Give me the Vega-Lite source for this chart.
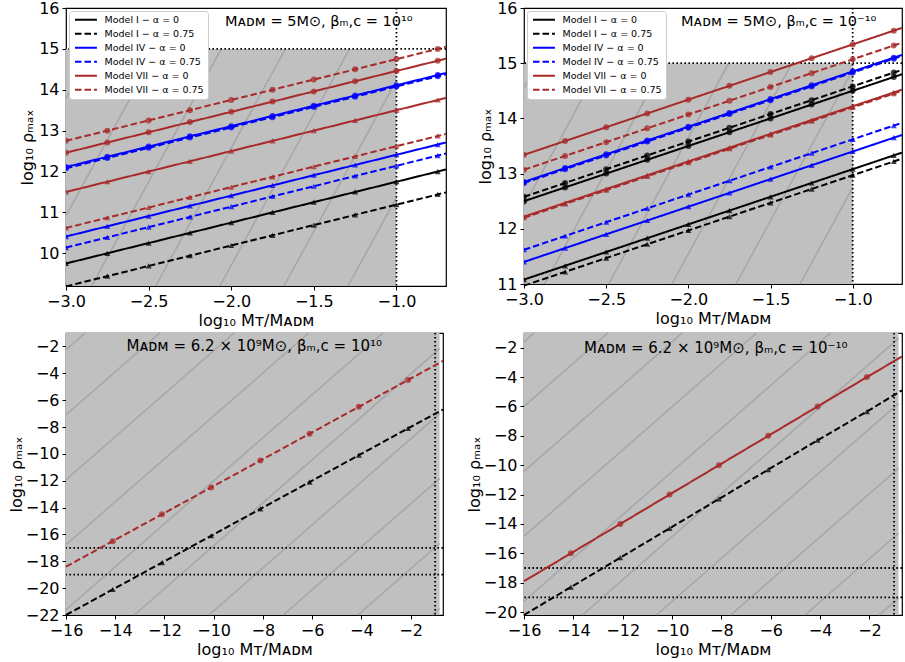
{
"$schema": "https://vega.github.io/schema/vega-lite/v6.json",
"background": "white",
"padding": {"left": 7, "top": -1, "right": 0, "bottom": 0},
"config": {
  "font": "DejaVu Sans",
  "view": {"stroke": "black", "strokeWidth": 1.2},
  "axis": {"domain": false, "grid": false, "labelFontSize": 16, "titleFontSize": 16, "titleFontWeight": "normal", "labelColor": "black", "titleColor": "black", "tickColor": "black", "tickSize": 4, "labelPadding": 3, "labelFont": "DejaVu Sans", "titleFont": "DejaVu Sans", "labelOverlap": false, "labelFlush": false, "tickCount": 30},
  "axisX": {"titlePadding": 3},
  "axisY": {"titlePadding": 3},
  "legend": {"orient": "top-left", "offset": 3, "fillColor": "white", "strokeColor": "#cccccc", "cornerRadius": 3, "padding": 4, "symbolType": "M-1,0H7", "symbolSize": 30, "symbolStrokeWidth": 2, "labelFontSize": 9.5, "labelFont": "DejaVu Sans", "labelColor": "black", "rowPadding": 3, "labelOffset": 22}
},
"datasets": {
  "series": [
    {"key": "I0c", "label": "Model I − α = 0", "kind": "c"},
    {"key": "I0t", "label": "Model I − α = 0", "kind": "t"},
    {"key": "I75c", "label": "Model I − α = 0.75", "kind": "c"},
    {"key": "I75t", "label": "Model I − α = 0.75", "kind": "t"},
    {"key": "IV0c", "label": "Model IV − α = 0", "kind": "c"},
    {"key": "IV0t", "label": "Model IV − α = 0", "kind": "t"},
    {"key": "IV75c", "label": "Model IV − α = 0.75", "kind": "c"},
    {"key": "IV75t", "label": "Model IV − α = 0.75", "kind": "t"},
    {"key": "VII0c", "label": "Model VII − α = 0", "kind": "c"},
    {"key": "VII0t", "label": "Model VII − α = 0", "kind": "t"},
    {"key": "VII75c", "label": "Model VII − α = 0.75", "kind": "c"},
    {"key": "VII75t", "label": "Model VII − α = 0.75", "kind": "t"}
  ],
  "tl": [
    {"x": -3, "VII75c": 12.75, "VII0c": 12.46, "IV0c": 12.11, "IV75c": 12.08, "VII0t": 11.5, "VII75t": 10.62, "IV0t": 10.41, "IV75t": 10.14, "I0t": 9.75, "I75t": 9.19},
    {"x": -2.75, "VII75c": 13.0, "VII0c": 12.71, "IV0c": 12.36, "IV75c": 12.33, "VII0t": 11.75, "VII75t": 10.87, "IV0t": 10.66, "IV75t": 10.39, "I0t": 10.0, "I75t": 9.44},
    {"x": -2.5, "VII75c": 13.25, "VII0c": 12.96, "IV0c": 12.61, "IV75c": 12.58, "VII0t": 12.0, "VII75t": 11.12, "IV0t": 10.91, "IV75t": 10.64, "I0t": 10.25, "I75t": 9.69},
    {"x": -2.25, "VII75c": 13.5, "VII0c": 13.21, "IV0c": 12.86, "IV75c": 12.83, "VII0t": 12.25, "VII75t": 11.37, "IV0t": 11.16, "IV75t": 10.89, "I0t": 10.5, "I75t": 9.94},
    {"x": -2, "VII75c": 13.75, "VII0c": 13.46, "IV0c": 13.11, "IV75c": 13.08, "VII0t": 12.5, "VII75t": 11.62, "IV0t": 11.41, "IV75t": 11.14, "I0t": 10.75, "I75t": 10.19},
    {"x": -1.75, "VII75c": 14.0, "VII0c": 13.71, "IV0c": 13.36, "IV75c": 13.33, "VII0t": 12.75, "VII75t": 11.87, "IV0t": 11.66, "IV75t": 11.39, "I0t": 11.0, "I75t": 10.44},
    {"x": -1.5, "VII75c": 14.25, "VII0c": 13.96, "IV0c": 13.61, "IV75c": 13.58, "VII0t": 13.0, "VII75t": 12.12, "IV0t": 11.91, "IV75t": 11.64, "I0t": 11.25, "I75t": 10.69},
    {"x": -1.25, "VII75c": 14.5, "VII0c": 14.21, "IV0c": 13.86, "IV75c": 13.83, "VII0t": 13.25, "VII75t": 12.37, "IV0t": 12.16, "IV75t": 11.89, "I0t": 11.5, "I75t": 10.94},
    {"x": -1, "VII75c": 14.75, "VII0c": 14.46, "IV0c": 14.11, "IV75c": 14.08, "VII0t": 13.5, "VII75t": 12.62, "IV0t": 12.41, "IV75t": 12.14, "I0t": 11.75, "I75t": 11.19},
    {"x": -0.75, "VII75c": 15.0, "VII0c": 14.71, "IV0c": 14.36, "IV75c": 14.33, "VII0t": 13.75, "VII75t": 12.87, "IV0t": 12.66, "IV75t": 12.39, "I0t": 12.0, "I75t": 11.44},
    {"x": -0.7, "VII75c": 15.05, "VII0c": 14.76, "IV0c": 14.41, "IV75c": 14.38, "VII0t": 13.8, "VII75t": 12.92, "IV0t": 12.71, "IV75t": 12.44, "I0t": 12.05, "I75t": 11.49}
  ],
  "tr": [
    {"x": -3, "VII0c": 13.34, "VII75c": 13.07, "IV0c": 12.85, "IV75c": 12.83, "I75c": 12.58, "I0c": 12.5, "VII0t": 12.22, "VII75t": 12.2, "IV75t": 11.62, "IV0t": 11.4, "I0t": 11.08, "I75t": 10.97},
    {"x": -2.75, "VII0c": 13.59, "VII75c": 13.32, "IV0c": 13.1, "IV75c": 13.08, "I75c": 12.83, "I0c": 12.75, "VII0t": 12.47, "VII75t": 12.45, "IV75t": 11.87, "IV0t": 11.65, "I0t": 11.33, "I75t": 11.22},
    {"x": -2.5, "VII0c": 13.84, "VII75c": 13.57, "IV0c": 13.35, "IV75c": 13.33, "I75c": 13.08, "I0c": 13.0, "VII0t": 12.72, "VII75t": 12.7, "IV75t": 12.12, "IV0t": 11.9, "I0t": 11.58, "I75t": 11.47},
    {"x": -2.25, "VII0c": 14.09, "VII75c": 13.82, "IV0c": 13.6, "IV75c": 13.58, "I75c": 13.33, "I0c": 13.25, "VII0t": 12.97, "VII75t": 12.95, "IV75t": 12.37, "IV0t": 12.15, "I0t": 11.83, "I75t": 11.72},
    {"x": -2, "VII0c": 14.34, "VII75c": 14.07, "IV0c": 13.85, "IV75c": 13.83, "I75c": 13.58, "I0c": 13.5, "VII0t": 13.22, "VII75t": 13.2, "IV75t": 12.62, "IV0t": 12.4, "I0t": 12.08, "I75t": 11.97},
    {"x": -1.75, "VII0c": 14.59, "VII75c": 14.32, "IV0c": 14.1, "IV75c": 14.08, "I75c": 13.83, "I0c": 13.75, "VII0t": 13.47, "VII75t": 13.45, "IV75t": 12.87, "IV0t": 12.65, "I0t": 12.33, "I75t": 12.22},
    {"x": -1.5, "VII0c": 14.84, "VII75c": 14.57, "IV0c": 14.35, "IV75c": 14.33, "I75c": 14.08, "I0c": 14.0, "VII0t": 13.72, "VII75t": 13.7, "IV75t": 13.12, "IV0t": 12.9, "I0t": 12.58, "I75t": 12.47},
    {"x": -1.25, "VII0c": 15.09, "VII75c": 14.82, "IV0c": 14.6, "IV75c": 14.58, "I75c": 14.33, "I0c": 14.25, "VII0t": 13.97, "VII75t": 13.95, "IV75t": 13.37, "IV0t": 13.15, "I0t": 12.83, "I75t": 12.72},
    {"x": -1, "VII0c": 15.34, "VII75c": 15.07, "IV0c": 14.85, "IV75c": 14.83, "I75c": 14.58, "I0c": 14.5, "VII0t": 14.22, "VII75t": 14.2, "IV75t": 13.62, "IV0t": 13.4, "I0t": 13.08, "I75t": 12.97},
    {"x": -0.75, "VII0c": 15.59, "VII75c": 15.32, "IV0c": 15.1, "IV75c": 15.08, "I75c": 14.83, "I0c": 14.75, "VII0t": 14.47, "VII75t": 14.45, "IV75t": 13.87, "IV0t": 13.65, "I0t": 13.33, "I75t": 13.22},
    {"x": -0.7, "VII0c": 15.64, "VII75c": 15.37, "IV0c": 15.15, "IV75c": 15.13, "I75c": 14.88, "I0c": 14.8, "VII0t": 14.52, "VII75t": 14.5, "IV75t": 13.92, "IV0t": 13.7, "I0t": 13.38, "I75t": 13.27}
  ],
  "bl": [
    {"x": -16, "VII75c": -18.4, "I75t": -22.0},
    {"x": -14.1, "VII75c": -16.5, "I75t": -20.1},
    {"x": -12.1, "VII75c": -14.5, "I75t": -18.1},
    {"x": -10.1, "VII75c": -12.5, "I75t": -16.1},
    {"x": -8.1, "VII75c": -10.5, "I75t": -14.1},
    {"x": -6.1, "VII75c": -8.5, "I75t": -12.1},
    {"x": -4.1, "VII75c": -6.5, "I75t": -10.1},
    {"x": -2.1, "VII75c": -4.5, "I75t": -8.1},
    {"x": -0.68, "VII75c": -3.08, "I75t": -6.7}
  ],
  "br": [
    {"x": -16, "VII0c": -17.9, "I75t": -20.2},
    {"x": -14.1, "VII0c": -16.0, "I75t": -18.3},
    {"x": -12.1, "VII0c": -14.0, "I75t": -16.3},
    {"x": -10.1, "VII0c": -12.0, "I75t": -14.3},
    {"x": -8.1, "VII0c": -10.0, "I75t": -12.3},
    {"x": -6.1, "VII0c": -8.0, "I75t": -10.3},
    {"x": -4.1, "VII0c": -6.0, "I75t": -8.3},
    {"x": -2.1, "VII0c": -4.0, "I75t": -6.35},
    {"x": -0.68, "VII0c": -2.6, "I75t": -4.9}
  ],
  "hatch_tl": [
    {"x": -3, "y": 13.79, "x2": -2.836, "y2": 15},
    {"x": -3, "y": 10.92, "x2": -2.448, "y2": 15},
    {"x": -2.845, "y": 9.2, "x2": -2.06, "y2": 15},
    {"x": -2.457, "y": 9.2, "x2": -1.672, "y2": 15},
    {"x": -2.069, "y": 9.2, "x2": -1.284, "y2": 15},
    {"x": -1.681, "y": 9.2, "x2": -1, "y2": 14.23},
    {"x": -1.293, "y": 9.2, "x2": -1, "y2": 11.37}
  ],
  "hatch_tr": [
    {"x": -3, "y": 14.56, "x2": -2.919, "y2": 15},
    {"x": -3, "y": 12.42, "x2": -2.529, "y2": 15},
    {"x": -2.875, "y": 11, "x2": -2.144, "y2": 15},
    {"x": -2.485, "y": 11, "x2": -1.754, "y2": 15},
    {"x": -2.1, "y": 11, "x2": -1.369, "y2": 15},
    {"x": -1.71, "y": 11, "x2": -1, "y2": 14.88},
    {"x": -1.32, "y": 11, "x2": -1, "y2": 12.75}
  ],
  "hatch_bl": [
    {"x": -16, "y": -2.25, "x2": -15.22, "y2": -1},
    {"x": -16, "y": -7.09, "x2": -12.19, "y2": -1},
    {"x": -16, "y": -11.93, "x2": -9.17, "y2": -1},
    {"x": -16, "y": -16.77, "x2": -6.14, "y2": -1},
    {"x": -16, "y": -21.61, "x2": -3.12, "y2": -1},
    {"x": -13.22, "y": -22, "x2": -0.82, "y2": -2.16},
    {"x": -10.19, "y": -22, "x2": -0.82, "y2": -7.0},
    {"x": -7.17, "y": -22, "x2": -0.82, "y2": -11.84},
    {"x": -4.14, "y": -22, "x2": -0.82, "y2": -16.68},
    {"x": -1.12, "y": -22, "x2": -0.82, "y2": -21.52}
  ],
  "hatch_br": [
    {"x": -16, "y": -1.6, "x2": -15.59, "y2": -1},
    {"x": -16, "y": -6.0, "x2": -12.6, "y2": -1},
    {"x": -16, "y": -10.42, "x2": -9.59, "y2": -1},
    {"x": -16, "y": -14.84, "x2": -6.58, "y2": -1},
    {"x": -16, "y": -19.26, "x2": -3.58, "y2": -1},
    {"x": -13.63, "y": -20.2, "x2": -0.82, "y2": -1.37},
    {"x": -10.63, "y": -20.2, "x2": -0.82, "y2": -5.79},
    {"x": -7.62, "y": -20.2, "x2": -0.82, "y2": -10.21},
    {"x": -4.61, "y": -20.2, "x2": -0.82, "y2": -14.63},
    {"x": -1.61, "y": -20.2, "x2": -0.82, "y2": -19.05}
  ]
},
"columns": 2,
"bounds": "flush",
"align": "each",
"spacing": {"row": 47, "column": 78},
"resolve": {"scale": {"color": "independent", "strokeDash": "independent", "shape": "independent"}, "legend": {"color": "independent", "strokeDash": "independent", "shape": "independent"}},
"concat": [
   {
    "width": 380, "height": 278,
    "layer": [
     {"data": {"values": [{"xa": -3, "xb": -1, "ya": 9.2, "yb": 15}]},
      "mark": {"type": "rect", "fill": "#c0c0c0"},
      "encoding": {
        "x": {"field": "xa", "type": "quantitative", "scale": {"domain": [-3, -0.7], "nice": false, "zero": false}, "axis": {"values": [-3, -2.5, -2, -1.5, -1], "format": ".1f", "title": "log₁₀ Mᴛ/Mᴀᴅᴍ"}},
        "x2": {"field": "xb"},
        "y": {"field": "ya", "type": "quantitative", "scale": {"domain": [9.2, 16], "nice": false, "zero": false}, "axis": {"values": [10, 11, 12, 13, 14, 15, 16], "format": "d", "title": "log₁₀ ρₘₐₓ"}},
        "y2": {"field": "yb"}
      }},
     {"data": {"name": "hatch_tl"},
      "mark": {"type": "rule", "stroke": "#a6a6a6", "strokeWidth": 1.5},
      "encoding": {"x": {"field": "x", "type": "quantitative"}, "y": {"field": "y", "type": "quantitative"}, "x2": {"field": "x2"}, "y2": {"field": "y2"}}},
     {"data": {"values": [{"v": -1}]},
      "mark": {"type": "rule", "stroke": "black", "strokeWidth": 1.8, "strokeDash": [1.6, 2.4]},
      "encoding": {"x": {"field": "v", "type": "quantitative"}}},
     {"data": {"values": [{"v": 15}]},
      "mark": {"type": "rule", "stroke": "black", "strokeWidth": 1.8, "strokeDash": [1.6, 2.4]},
      "encoding": {"y": {"field": "v", "type": "quantitative"}}},
     {"data": {"name": "tl"},
      "transform": [
        {"fold": ["I75t", "I0t", "IV75t", "IV0t", "IV75c", "IV0c", "VII75t", "VII0t", "VII0c", "VII75c"], "as": ["key", "y"]},
        {"lookup": "key", "from": {"data": {"name": "series"}, "key": "key", "fields": ["label", "kind"]}}
      ],
      "mark": {"type": "line", "strokeWidth": 2},
      "encoding": {
        "x": {"field": "x", "type": "quantitative"},
        "y": {"field": "y", "type": "quantitative"},
        "detail": {"field": "key"},
        "color": {"field": "label", "type": "nominal", "scale": {"domain": ["Model I − α = 0", "Model I − α = 0.75", "Model IV − α = 0", "Model IV − α = 0.75", "Model VII − α = 0", "Model VII − α = 0.75"], "range": ["#000000", "#000000", "#0000ff", "#0000ff", "#a82a2a", "#a82a2a"]}, "legend": {"title": null}},
        "strokeDash": {"field": "label", "type": "nominal", "scale": {"domain": ["Model I − α = 0", "Model I − α = 0.75", "Model IV − α = 0", "Model IV − α = 0.75", "Model VII − α = 0", "Model VII − α = 0.75"], "range": [[1, 0], [6.5, 3], [1, 0], [6.5, 3], [1, 0], [6.5, 3]]}, "legend": {"title": null}}
      }},
     {"data": {"name": "tl"},
      "transform": [
        {"fold": ["I75t", "I0t", "IV75t", "IV0t", "IV75c", "IV0c", "VII75t", "VII0t", "VII0c", "VII75c"], "as": ["key", "y"]},
        {"lookup": "key", "from": {"data": {"name": "series"}, "key": "key", "fields": ["label", "kind"]}},
        {"filter": "datum.x < -0.72"}
      ],
      "mark": {"type": "point", "filled": true, "size": 36, "opacity": 0.75, "clip": true},
      "encoding": {
        "x": {"field": "x", "type": "quantitative"},
        "y": {"field": "y", "type": "quantitative"},
        "color": {"field": "label", "type": "nominal", "legend": null},
        "shape": {"field": "kind", "type": "nominal", "scale": {"domain": ["c", "t"], "range": ["circle", "triangle-up"]}, "legend": null}
      }},
     {"data": {"values": [{"x": -1.47, "y": 15.65, "t": "Mᴀᴅᴍ = 5M⊙, βₘ,c = 10¹⁰"}]},
      "mark": {"type": "text", "fontSize": 14.5, "font": "DejaVu Sans", "align": "center", "baseline": "middle", "color": "black"},
      "encoding": {"x": {"field": "x", "type": "quantitative"}, "y": {"field": "y", "type": "quantitative"}, "text": {"field": "t"}}}
    ]
   },
   {
    "width": 378, "height": 276,
    "layer": [
     {"data": {"values": [{"xa": -3, "xb": -1, "ya": 11, "yb": 15}]},
      "mark": {"type": "rect", "fill": "#c0c0c0"},
      "encoding": {
        "x": {"field": "xa", "type": "quantitative", "scale": {"domain": [-3, -0.7], "nice": false, "zero": false}, "axis": {"values": [-3, -2.5, -2, -1.5, -1], "format": ".1f", "title": "log₁₀ Mᴛ/Mᴀᴅᴍ"}},
        "x2": {"field": "xb"},
        "y": {"field": "ya", "type": "quantitative", "scale": {"domain": [11, 16], "nice": false, "zero": false}, "axis": {"values": [11, 12, 13, 14, 15, 16], "format": "d", "title": "log₁₀ ρₘₐₓ"}},
        "y2": {"field": "yb"}
      }},
     {"data": {"name": "hatch_tr"},
      "mark": {"type": "rule", "stroke": "#a6a6a6", "strokeWidth": 1.5},
      "encoding": {"x": {"field": "x", "type": "quantitative"}, "y": {"field": "y", "type": "quantitative"}, "x2": {"field": "x2"}, "y2": {"field": "y2"}}},
     {"data": {"values": [{"v": -1}]},
      "mark": {"type": "rule", "stroke": "black", "strokeWidth": 1.8, "strokeDash": [1.6, 2.4]},
      "encoding": {"x": {"field": "v", "type": "quantitative"}}},
     {"data": {"values": [{"v": 15}]},
      "mark": {"type": "rule", "stroke": "black", "strokeWidth": 1.8, "strokeDash": [1.6, 2.4]},
      "encoding": {"y": {"field": "v", "type": "quantitative"}}},
     {"data": {"name": "tr"},
      "transform": [
        {"fold": ["I0t", "I75t", "I0c", "I75c", "IV0t", "IV75t", "IV75c", "IV0c", "VII75t", "VII0t", "VII75c", "VII0c"], "as": ["key", "y"]},
        {"lookup": "key", "from": {"data": {"name": "series"}, "key": "key", "fields": ["label", "kind"]}}
      ],
      "mark": {"type": "line", "strokeWidth": 2},
      "encoding": {
        "x": {"field": "x", "type": "quantitative"},
        "y": {"field": "y", "type": "quantitative"},
        "detail": {"field": "key"},
        "color": {"field": "label", "type": "nominal", "scale": {"domain": ["Model I − α = 0", "Model I − α = 0.75", "Model IV − α = 0", "Model IV − α = 0.75", "Model VII − α = 0", "Model VII − α = 0.75"], "range": ["#000000", "#000000", "#0000ff", "#0000ff", "#a82a2a", "#a82a2a"]}, "legend": {"title": null}},
        "strokeDash": {"field": "label", "type": "nominal", "scale": {"domain": ["Model I − α = 0", "Model I − α = 0.75", "Model IV − α = 0", "Model IV − α = 0.75", "Model VII − α = 0", "Model VII − α = 0.75"], "range": [[1, 0], [6.5, 3], [1, 0], [6.5, 3], [1, 0], [6.5, 3]]}, "legend": {"title": null}}
      }},
     {"data": {"name": "tr"},
      "transform": [
        {"fold": ["I0t", "I75t", "I0c", "I75c", "IV0t", "IV75t", "IV75c", "IV0c", "VII75t", "VII0t", "VII75c", "VII0c"], "as": ["key", "y"]},
        {"lookup": "key", "from": {"data": {"name": "series"}, "key": "key", "fields": ["label", "kind"]}},
        {"filter": "datum.x < -0.72"}
      ],
      "mark": {"type": "point", "filled": true, "size": 36, "opacity": 0.75, "clip": true},
      "encoding": {
        "x": {"field": "x", "type": "quantitative"},
        "y": {"field": "y", "type": "quantitative"},
        "color": {"field": "label", "type": "nominal", "legend": null},
        "shape": {"field": "kind", "type": "nominal", "scale": {"domain": ["c", "t"], "range": ["circle", "triangle-up"]}, "legend": null}
      }},
     {"data": {"values": [{"x": -1.45, "y": 15.75, "t": "Mᴀᴅᴍ = 5M⊙, βₘ,c = 10⁻¹⁰"}]},
      "mark": {"type": "text", "fontSize": 14.5, "font": "DejaVu Sans", "align": "center", "baseline": "middle", "color": "black"},
      "encoding": {"x": {"field": "x", "type": "quantitative"}, "y": {"field": "y", "type": "quantitative"}, "text": {"field": "t"}}}
    ]
   },
   {
    "width": 377, "height": 282,
    "layer": [
     {"data": {"values": [{"xa": -16, "xb": -0.82, "ya": -22, "yb": -1}]},
      "mark": {"type": "rect", "fill": "#c0c0c0"},
      "encoding": {
        "x": {"field": "xa", "type": "quantitative", "scale": {"domain": [-16, -0.68], "nice": false, "zero": false}, "axis": {"values": [-16, -14, -12, -10, -8, -6, -4, -2], "format": "d", "title": "log₁₀ Mᴛ/Mᴀᴅᴍ"}},
        "x2": {"field": "xb"},
        "y": {"field": "ya", "type": "quantitative", "scale": {"domain": [-22, -1], "nice": false, "zero": false}, "axis": {"values": [-22, -20, -18, -16, -14, -12, -10, -8, -6, -4, -2], "format": "d", "title": "log₁₀ ρₘₐₓ", "titlePadding": 1}},
        "y2": {"field": "yb"}
      }},
     {"data": {"name": "hatch_bl"},
      "mark": {"type": "rule", "stroke": "#a6a6a6", "strokeWidth": 1.5},
      "encoding": {"x": {"field": "x", "type": "quantitative"}, "y": {"field": "y", "type": "quantitative"}, "x2": {"field": "x2"}, "y2": {"field": "y2"}}},
     {"data": {"values": [{"v": -1}]},
      "mark": {"type": "rule", "stroke": "black", "strokeWidth": 1.8, "strokeDash": [1.6, 2.4]},
      "encoding": {"x": {"field": "v", "type": "quantitative"}}},
     {"data": {"values": [{"v": -17}, {"v": -19}]},
      "mark": {"type": "rule", "stroke": "black", "strokeWidth": 1.8, "strokeDash": [1.6, 2.4]},
      "encoding": {"y": {"field": "v", "type": "quantitative"}}},
     {"data": {"name": "bl"},
      "transform": [
        {"fold": ["I75t", "VII75c"], "as": ["key", "y"]},
        {"lookup": "key", "from": {"data": {"name": "series"}, "key": "key", "fields": ["label", "kind"]}}
      ],
      "mark": {"type": "line", "strokeWidth": 2},
      "encoding": {
        "x": {"field": "x", "type": "quantitative"},
        "y": {"field": "y", "type": "quantitative"},
        "detail": {"field": "key"},
        "color": {"field": "label", "type": "nominal", "scale": {"domain": ["Model I − α = 0", "Model I − α = 0.75", "Model IV − α = 0", "Model IV − α = 0.75", "Model VII − α = 0", "Model VII − α = 0.75"], "range": ["#000000", "#000000", "#0000ff", "#0000ff", "#a82a2a", "#a82a2a"]}, "legend": null},
        "strokeDash": {"field": "label", "type": "nominal", "scale": {"domain": ["Model I − α = 0", "Model I − α = 0.75", "Model IV − α = 0", "Model IV − α = 0.75", "Model VII − α = 0", "Model VII − α = 0.75"], "range": [[1, 0], [6.5, 3], [1, 0], [6.5, 3], [1, 0], [6.5, 3]]}, "legend": null}
      }},
     {"data": {"name": "bl"},
      "transform": [
        {"fold": ["I75t", "VII75c"], "as": ["key", "y"]},
        {"lookup": "key", "from": {"data": {"name": "series"}, "key": "key", "fields": ["label", "kind"]}},
        {"filter": "datum.x > -15.9 && datum.x < -1"}
      ],
      "mark": {"type": "point", "filled": true, "size": 36, "opacity": 0.75, "clip": true},
      "encoding": {
        "x": {"field": "x", "type": "quantitative"},
        "y": {"field": "y", "type": "quantitative"},
        "color": {"field": "label", "type": "nominal", "legend": null},
        "shape": {"field": "kind", "type": "nominal", "scale": {"domain": ["c", "t"], "range": ["circle", "triangle-up"]}, "legend": null}
      }},
     {"data": {"values": [{"x": -8.35, "y": -2.0, "t": "Mᴀᴅᴍ = 6.2 × 10⁹M⊙, βₘ,c = 10¹⁰"}]},
      "mark": {"type": "text", "fontSize": 15, "font": "DejaVu Sans", "align": "center", "baseline": "middle", "color": "black"},
      "encoding": {"x": {"field": "x", "type": "quantitative"}, "y": {"field": "y", "type": "quantitative"}, "text": {"field": "t"}}}
    ]
   },
   {
    "width": 378, "height": 282,
    "layer": [
     {"data": {"values": [{"xa": -16, "xb": -0.82, "ya": -20.2, "yb": -1}]},
      "mark": {"type": "rect", "fill": "#c0c0c0"},
      "encoding": {
        "x": {"field": "xa", "type": "quantitative", "scale": {"domain": [-16, -0.68], "nice": false, "zero": false}, "axis": {"values": [-16, -14, -12, -10, -8, -6, -4, -2], "format": "d", "title": "log₁₀ Mᴛ/Mᴀᴅᴍ"}},
        "x2": {"field": "xb"},
        "y": {"field": "ya", "type": "quantitative", "scale": {"domain": [-20.2, -1], "nice": false, "zero": false}, "axis": {"values": [-20, -18, -16, -14, -12, -10, -8, -6, -4, -2], "format": "d", "title": "log₁₀ ρₘₐₓ", "titlePadding": 1}},
        "y2": {"field": "yb"}
      }},
     {"data": {"name": "hatch_br"},
      "mark": {"type": "rule", "stroke": "#a6a6a6", "strokeWidth": 1.5},
      "encoding": {"x": {"field": "x", "type": "quantitative"}, "y": {"field": "y", "type": "quantitative"}, "x2": {"field": "x2"}, "y2": {"field": "y2"}}},
     {"data": {"values": [{"v": -1}]},
      "mark": {"type": "rule", "stroke": "black", "strokeWidth": 1.8, "strokeDash": [1.6, 2.4]},
      "encoding": {"x": {"field": "v", "type": "quantitative"}}},
     {"data": {"values": [{"v": -17}, {"v": -19}]},
      "mark": {"type": "rule", "stroke": "black", "strokeWidth": 1.8, "strokeDash": [1.6, 2.4]},
      "encoding": {"y": {"field": "v", "type": "quantitative"}}},
     {"data": {"name": "br"},
      "transform": [
        {"fold": ["I75t", "VII0c"], "as": ["key", "y"]},
        {"lookup": "key", "from": {"data": {"name": "series"}, "key": "key", "fields": ["label", "kind"]}}
      ],
      "mark": {"type": "line", "strokeWidth": 2},
      "encoding": {
        "x": {"field": "x", "type": "quantitative"},
        "y": {"field": "y", "type": "quantitative"},
        "detail": {"field": "key"},
        "color": {"field": "label", "type": "nominal", "scale": {"domain": ["Model I − α = 0", "Model I − α = 0.75", "Model IV − α = 0", "Model IV − α = 0.75", "Model VII − α = 0", "Model VII − α = 0.75"], "range": ["#000000", "#000000", "#0000ff", "#0000ff", "#a82a2a", "#a82a2a"]}, "legend": null},
        "strokeDash": {"field": "label", "type": "nominal", "scale": {"domain": ["Model I − α = 0", "Model I − α = 0.75", "Model IV − α = 0", "Model IV − α = 0.75", "Model VII − α = 0", "Model VII − α = 0.75"], "range": [[1, 0], [6.5, 3], [1, 0], [6.5, 3], [1, 0], [6.5, 3]]}, "legend": null}
      }},
     {"data": {"name": "br"},
      "transform": [
        {"fold": ["I75t", "VII0c"], "as": ["key", "y"]},
        {"lookup": "key", "from": {"data": {"name": "series"}, "key": "key", "fields": ["label", "kind"]}},
        {"filter": "datum.x > -15.9 && datum.x < -1"}
      ],
      "mark": {"type": "point", "filled": true, "size": 36, "opacity": 0.75, "clip": true},
      "encoding": {
        "x": {"field": "x", "type": "quantitative"},
        "y": {"field": "y", "type": "quantitative"},
        "color": {"field": "label", "type": "nominal", "legend": null},
        "shape": {"field": "kind", "type": "nominal", "scale": {"domain": ["c", "t"], "range": ["circle", "triangle-up"]}, "legend": null}
      }},
     {"data": {"values": [{"x": -8.23, "y": -2.0, "t": "Mᴀᴅᴍ = 6.2 × 10⁹M⊙, βₘ,c = 10⁻¹⁰"}]},
      "mark": {"type": "text", "fontSize": 15, "font": "DejaVu Sans", "align": "center", "baseline": "middle", "color": "black"},
      "encoding": {"x": {"field": "x", "type": "quantitative"}, "y": {"field": "y", "type": "quantitative"}, "text": {"field": "t"}}}
    ]
   }
]
}
